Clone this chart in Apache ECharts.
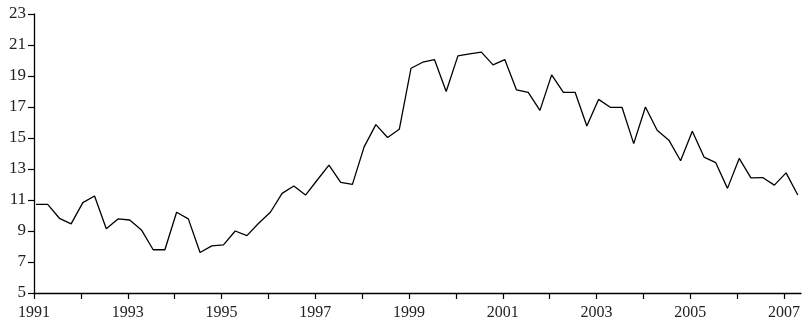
<!DOCTYPE html>
<html>
<head>
<meta charset="utf-8">
<script src="https://cdn.jsdelivr.net/npm/echarts@6/dist/echarts.min.js"></script>
<style>
  html, body { margin: 0; padding: 0; background: #fff; }
  #chart { width: 811px; height: 327px; }
</style>
</head>
<body>
<div id="chart"></div>
<script>
// Quarterly observations, 1991 Q1 to 2007 Q2
const startYear = 1991;
const values = [
  10.72, 10.72, 9.82, 9.46, 10.83, 11.26, 9.14, 9.78, 9.71, 9.07,
  7.79, 7.79, 10.21, 9.78, 7.61, 8.04, 8.1, 9.0, 8.7, 9.5,
  10.21, 11.43, 11.9, 11.32, 12.29, 13.25, 12.14, 12.01, 14.43, 15.86,
  15.03, 15.56, 19.5, 19.89, 20.06, 18.0, 20.3, 20.43, 20.54, 19.72,
  20.06, 18.1, 17.95, 16.78, 19.07, 17.94, 17.95, 15.77, 17.49, 16.98,
  16.98, 14.64, 17.0, 15.5, 14.86, 13.53, 15.44, 13.77, 13.41, 11.75,
  13.68, 12.43, 12.45, 11.96, 12.75, 11.32
];
const quarters = values.map((_, i) => (startYear + Math.floor(i / 4)) + ' Q' + (i % 4 + 1));
const xTickYears = [1991,1992,1993,1994,1995,1996,1997,1998,1999,2000,2001,2002,2003,2004,2005,2006,2007];
const xLabelYears = [1991,1993,1995,1997,1999,2001,2003,2005,2007];

// observation placed at middle of the first month of each quarter
function quarterToYear(label) {
  const parts = label.split(' Q');
  return Number(parts[0]) + (Number(parts[1]) - 1) / 4 + 0.5 / 12;
}
const seriesData = quarters.map((q, i) => [quarterToYear(q), values[i]]);

const chart = echarts.init(document.getElementById('chart'), null, { renderer: 'canvas' });
const font = 'Liberation Serif';
chart.setOption({
  animation: false,
  backgroundColor: '#ffffff',
  grid: { left: 34, right: 10, top: 14, bottom: 34, containLabel: false },
  xAxis: {
    type: 'value',
    min: 1991,
    max: 2007.36,
    interval: 1,
    splitLine: { show: false },
    axisLine: { show: true, lineStyle: { color: '#000', width: 1.3 } },
    axisTick: { show: true, length: 6, lineStyle: { color: '#000', width: 1.2 }, customValues: xTickYears },
    axisLabel: {
      show: true, customValues: xLabelYears, margin: 12,
      color: '#222', fontFamily: font, fontSize: 16,
      formatter: v => String(Math.round(v))
    }
  },
  yAxis: {
    type: 'value',
    min: 5,
    max: 23,
    interval: 2,
    splitLine: { show: false },
    axisLine: { show: true, lineStyle: { color: '#000', width: 1.3 } },
    axisTick: { show: true, length: 6, lineStyle: { color: '#000', width: 1.2 } },
    axisLabel: { margin: 8, color: '#222', fontFamily: font, fontSize: 17 }
  },
  series: [{
    type: 'line',
    data: seriesData,
    showSymbol: false,
    symbol: 'none',
    clip: false,
    lineStyle: { color: '#000', width: 1.3 }
  }]
});
</script>
</body>
</html>
